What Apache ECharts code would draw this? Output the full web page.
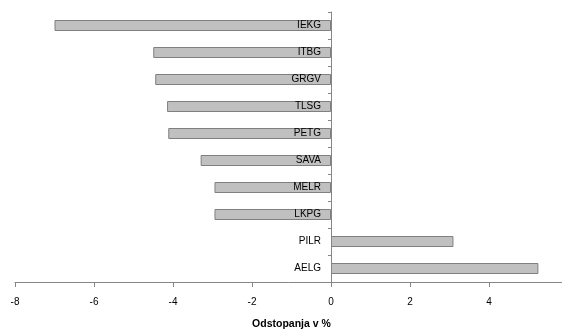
<!DOCTYPE html>
<html>
<head>
<meta charset="utf-8">
<script src="https://cdn.jsdelivr.net/npm/echarts@6/dist/echarts.min.js"></script>
<style>
html,body{margin:0;padding:0;background:#fff;}
#chart{width:562px;height:329px;}
</style>
</head>
<body>
<div id="chart"></div>
<script>
// categories listed bottom to top
const categories = ['AELG','PILR','LKPG','MELR','SAVA','PETG','TLSG','GRGV','ITBG','IEKG'];
const values = [5.25, 3.1, -2.95, -2.95, -3.3, -4.12, -4.15, -4.45, -4.5, -7.0];
const xTicks = { min: -8, max: 6, interval: 2 };
const axisTitle = 'Odstopanja v %';

const gridLeft = 15, gridRight = -6, gridWidth = 562 - gridLeft - gridRight;
// offset moving the category axis to the zero line of the value axis
const zeroOffset = -gridWidth * (0 - xTicks.min) / (xTicks.max - xTicks.min);

const chart = echarts.init(document.getElementById('chart'), null, {renderer: 'canvas'});
const font = 'Liberation Sans, Arial, sans-serif';
chart.setOption({
  animation: false,
  backgroundColor: '#ffffff',
  grid: { left: gridLeft, right: gridRight, top: 12, bottom: 47, containLabel: false, outerBoundsMode: 'none' },
  xAxis: {
    type: 'value',
    min: xTicks.min, max: xTicks.max, interval: xTicks.interval,
    axisLine: { show: true, onZero: false, lineStyle: { color: '#868686', width: 1 } },
    axisTick: { show: true, length: 5, lineStyle: { color: '#868686' } },
    splitLine: { show: false },
    axisLabel: { color: '#000', fontSize: 10, fontFamily: font, margin: 15 },
    name: axisTitle,
    nameLocation: 'middle',
    nameGap: 37,
    nameTextStyle: { color: '#000', fontSize: 10.5, fontWeight: 'bold', fontFamily: font }
  },
  yAxis: {
    type: 'category',
    data: categories,
    position: 'left',
    offset: zeroOffset,
    z: 5,
    axisLine: { show: true, onZero: false, lineStyle: { color: '#868686', width: 1 } },
    axisTick: { show: true, length: 3, lineStyle: { color: '#868686' } },
    axisLabel: { color: '#000', fontSize: 10, fontFamily: font, margin: 10 },
    splitLine: { show: false }
  },
  series: [{
    type: 'bar',
    data: values,
    barWidth: 11,
    itemStyle: { color: '#c0c0c0', borderColor: '#7f7f7f', borderWidth: 1 },
    z: 1
  }]
});
</script>
</body>
</html>
